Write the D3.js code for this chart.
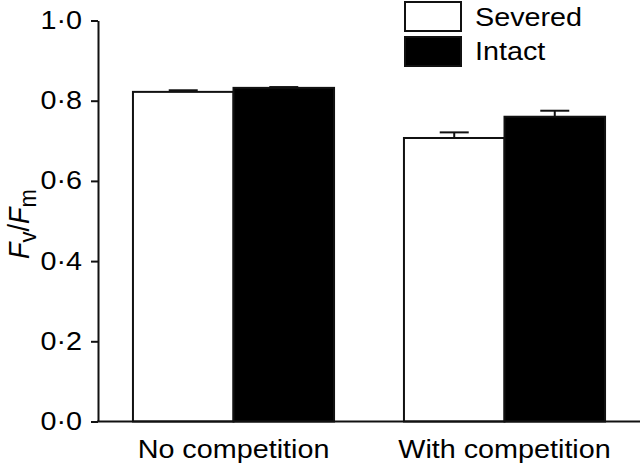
<!DOCTYPE html>
<html><head><meta charset="utf-8">
<script src="https://cdn.jsdelivr.net/npm/d3@7"></script>
<style>body{margin:0;background:#fff}svg{display:block}text{font-family:"Liberation Sans",Arial,sans-serif}</style>
</head><body>
<svg id="c" width="640" height="467"></svg>
<script>
const categories = ["No competition", "With competition"];
const seriesNames = ["Severed", "Intact"];
const severedValues = [0.822, 0.707];
const severedErrors = [0.004, 0.014];
const intactValues = [0.832, 0.760];
const intactErrors = [0.002, 0.015];
const yTicks = [0, 0.2, 0.4, 0.6, 0.8, 1.0];

const svg = d3.select("#c");
const SX = 1.15;
const FS = 25;
const y = d3.scaleLinear().domain([0, 1]).range([421.5, 20.5]);
const x0 = d3.scaleBand().domain(categories).range([98, 640]).paddingInner(0.258).paddingOuter(0.129);
const x1 = d3.scaleBand().domain(seriesNames).range([0, x0.bandwidth()]).padding(0);
const fills = {Severed: "#fff", Intact: "#000"};
const data = [];
categories.forEach((c, i) => {
  data.push({cat: c, s: "Severed", v: severedValues[i], e: severedErrors[i]});
  data.push({cat: c, s: "Intact", v: intactValues[i], e: intactErrors[i]});
});

// error bars (behind bars)
const eb = svg.append("g");
data.forEach(d => {
  const cx = x0(d.cat) + x1(d.s) + x1.bandwidth() / 2;
  eb.append("line").attr("x1", cx).attr("x2", cx).attr("y1", y(d.v)).attr("y2", y(d.v + d.e))
    .attr("stroke", "#111").attr("stroke-width", 2);
  eb.append("line").attr("x1", cx - 14.5).attr("x2", cx + 14.5).attr("y1", y(d.v + d.e)).attr("y2", y(d.v + d.e))
    .attr("stroke", "#111").attr("stroke-width", 2);
});

svg.append("g").selectAll("rect").data(data).join("rect")
  .attr("x", d => x0(d.cat) + x1(d.s))
  .attr("y", d => y(d.v))
  .attr("width", x1.bandwidth())
  .attr("height", d => y(0) - y(d.v))
  .attr("fill", d => fills[d.s])
  .attr("stroke", "#111").attr("stroke-width", 2);

// y axis
const yAxis = svg.append("g").attr("transform", "translate(98,0)")
  .call(d3.axisLeft(y).tickValues(yTicks).tickSize(7).tickSizeOuter(0).tickPadding(9)
    .tickFormat(d => d3.format(".1f")(d).replace(".", "\u00b7")));
yAxis.select(".domain").attr("stroke", "#111").attr("stroke-width", 2);
yAxis.selectAll(".tick line").attr("stroke", "#111").attr("stroke-width", 2);
yAxis.selectAll(".tick text").attr("font-size", FS).attr("fill", "#000")
  .attr("font-family", "Liberation Sans, Arial, sans-serif")
  .each(function() {
    const t = d3.select(this);
    const xx = +t.attr("x");
    t.attr("transform", `translate(${xx},0) scale(${SX},1)`).attr("x", 0);
  });

// x axis line
svg.append("line").attr("x1", 97).attr("x2", 640).attr("y1", y(0)).attr("y2", y(0))
  .attr("stroke", "#111").attr("stroke-width", 2);
// category labels
categories.forEach(c => {
  svg.append("text").attr("transform", `translate(${x0(c) + x0.bandwidth() / 2},458) scale(${SX},1)`)
    .attr("text-anchor", "middle").attr("font-size", FS).text(c);
});

// y label
const yl = svg.append("text").attr("transform", `translate(29,224) scale(1.1,1) rotate(-90)`)
  .attr("text-anchor", "middle").attr("font-size", 27);
yl.append("tspan").attr("font-style", "italic").text("F");
yl.append("tspan").attr("font-size", 22).attr("dy", 6).text("v");
yl.append("tspan").attr("dy", -6).text("/");
yl.append("tspan").attr("font-style", "italic").text("F");
yl.append("tspan").attr("font-size", 22).attr("dy", 6).text("m");

// legend
const lg = svg.append("g");
seriesNames.forEach((s, i) => {
  lg.append("rect").attr("x", 405).attr("y", 2 + i * 35).attr("width", 56).attr("height", 29)
    .attr("fill", fills[s]).attr("stroke", "#111").attr("stroke-width", 2);
  lg.append("text").attr("transform", `translate(475,${26 + i * 34}) scale(${SX},1)`)
    .attr("font-size", FS).text(s);
});
</script>
</body></html>
